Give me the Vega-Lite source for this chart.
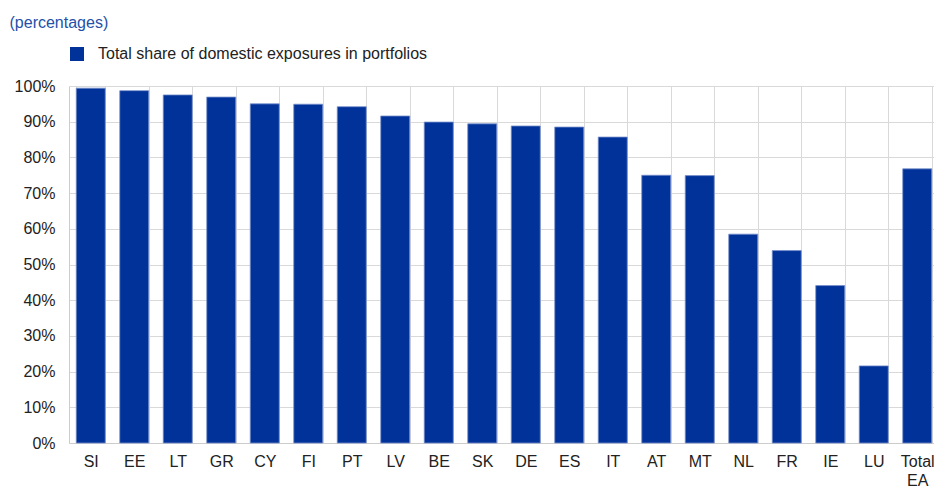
{
  "$schema": "https://vega.github.io/schema/vega-lite/v6.json",
  "autosize": "none",
  "padding": {"left": 69, "top": 86, "right": 0, "bottom": 44},
  "width": 865,
  "height": 357,
  "background": "white",
  "data": {
    "values": [
      {"country": "SI", "share": 99.4, "series": "Total share of domestic exposures in portfolios"},
      {"country": "EE", "share": 98.7, "series": "Total share of domestic exposures in portfolios"},
      {"country": "LT", "share": 97.5, "series": "Total share of domestic exposures in portfolios"},
      {"country": "GR", "share": 96.9, "series": "Total share of domestic exposures in portfolios"},
      {"country": "CY", "share": 95.0, "series": "Total share of domestic exposures in portfolios"},
      {"country": "FI", "share": 94.9, "series": "Total share of domestic exposures in portfolios"},
      {"country": "PT", "share": 94.2, "series": "Total share of domestic exposures in portfolios"},
      {"country": "LV", "share": 91.6, "series": "Total share of domestic exposures in portfolios"},
      {"country": "BE", "share": 89.9, "series": "Total share of domestic exposures in portfolios"},
      {"country": "SK", "share": 89.4, "series": "Total share of domestic exposures in portfolios"},
      {"country": "DE", "share": 88.8, "series": "Total share of domestic exposures in portfolios"},
      {"country": "ES", "share": 88.5, "series": "Total share of domestic exposures in portfolios"},
      {"country": "IT", "share": 85.7, "series": "Total share of domestic exposures in portfolios"},
      {"country": "AT", "share": 75.0, "series": "Total share of domestic exposures in portfolios"},
      {"country": "MT", "share": 74.9, "series": "Total share of domestic exposures in portfolios"},
      {"country": "NL", "share": 58.5, "series": "Total share of domestic exposures in portfolios"},
      {"country": "FR", "share": 53.9, "series": "Total share of domestic exposures in portfolios"},
      {"country": "IE", "share": 44.1, "series": "Total share of domestic exposures in portfolios"},
      {"country": "LU", "share": 21.6, "series": "Total share of domestic exposures in portfolios"},
      {"country": "Total EA", "share": 76.8, "series": "Total share of domestic exposures in portfolios"}
    ]
  },
  "mark": {"type": "bar", "stroke": "#7890cc", "strokeWidth": 0.8},
  "encoding": {
    "x": {
      "field": "country",
      "type": "nominal",
      "sort": null,
      "scale": {"range": [0, 870], "paddingInner": 0.3333, "paddingOuter": 0.16667},
      "axis": {
        "title": null,
        "labelAngle": 0,
        "labelFont": "Liberation Sans",
        "labelFontSize": 16,
        "labelColor": "#222222",
        "labelPadding": 10,
        "labelLineHeight": 19,
        "labelExpr": "datum.value == 'Total EA' ? ['Total', 'EA'] : datum.value",
        "ticks": false,
        "tickBand": "extent",
        "grid": true,
        "gridColor": "#d9d9d9",
        "gridWidth": 1,
        "domainColor": "#cccccc",
        "labelOverlap": false
      }
    },
    "y": {
      "field": "share",
      "type": "quantitative",
      "scale": {"domain": [0, 100], "nice": false},
      "axis": {
        "values": [0, 10, 20, 30, 40, 50, 60, 70, 80, 90, 100],
        "labelExpr": "datum.value + '%'",
        "labelFont": "Liberation Sans",
        "labelFontSize": 16,
        "labelColor": "#222222",
        "labelPadding": 14,
        "ticks": false,
        "grid": true,
        "gridColor": "#d9d9d9",
        "gridWidth": 1,
        "domainColor": "#cccccc",
        "title": "(percentages)",
        "titleFont": "Liberation Sans",
        "titleFontSize": 16,
        "titleFontWeight": "normal",
        "titleColor": "#2350a8",
        "titleAngle": 0,
        "titleAlign": "left",
        "titleBaseline": "alphabetic",
        "titleX": -60,
        "titleY": -58.5
      }
    },
    "color": {
      "field": "series",
      "type": "nominal",
      "scale": {"range": ["#003299"]},
      "legend": {
        "title": null,
        "orient": "none",
        "legendX": 0,
        "legendY": -40,
        "padding": 0,
        "symbolType": "square",
        "symbolSize": 196,
        "symbolStrokeWidth": 0,
        "labelFont": "Liberation Sans",
        "labelFontSize": 16,
        "labelColor": "#222222",
        "labelOffset": 13,
        "labelLimit": 600
      }
    }
  },
  "config": {"view": {"stroke": null}}
}
